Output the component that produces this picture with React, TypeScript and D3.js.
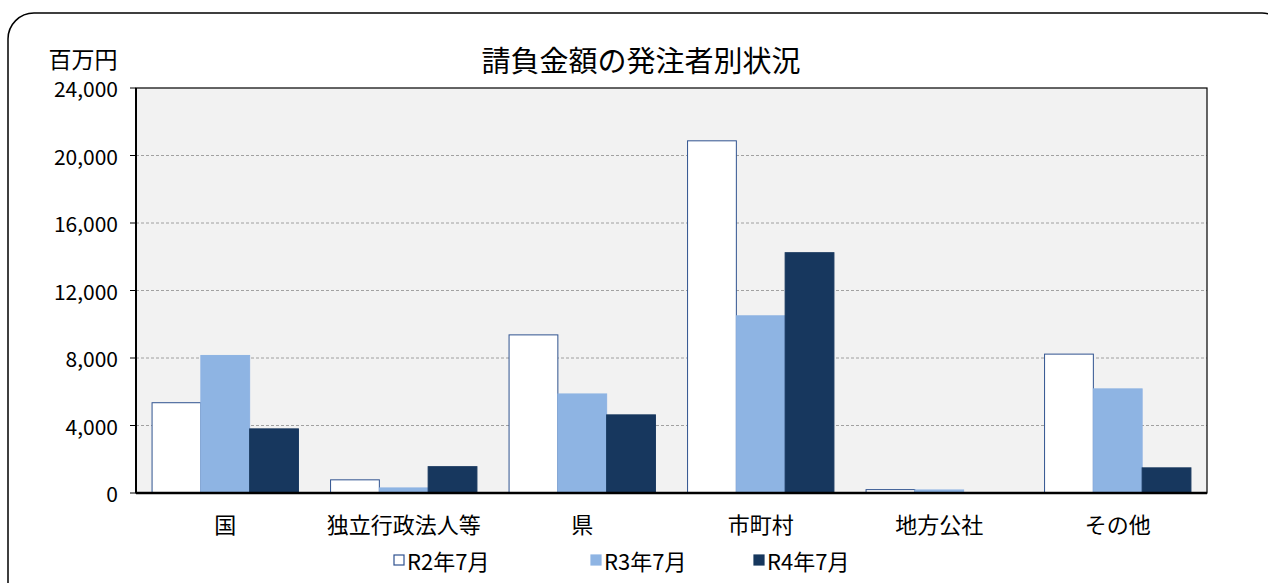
import { useEffect, useRef } from 'react';
import * as d3 from 'd3';

const categories = ['国', '独立行政法人等', '県', '市町村', '地方公社', 'その他'];
const seriesNames = ['R2年7月', 'R3年7月', 'R4年7月'];
const r2Values = [5350, 780, 9370, 20870, 200, 8230];
const r3Values = [8150, 300, 5870, 10500, 180, 6170];
const r4Values = [3800, 1560, 4630, 14240, 0, 1490];
const yTicks = [0, 4000, 8000, 12000, 16000, 20000, 24000];

const fills = ['#ffffff', '#8eb4e3', '#17375e'];
const strokes = ['#2f528f', '#8eb4e3', '#17375e'];
const FONT = '"Noto Sans CJK JP", "Noto Sans", sans-serif';

export default function App() {
  const svgRef = useRef<SVGSVGElement>(null);

  useEffect(() => {
    if (!svgRef.current) return;
    const svg = d3.select(svgRef.current);
    svg.selectAll('*').remove();

    const width = 1268;
    const height = 583;
    const margin = { top: 88, right: 61, bottom: 90, left: 136 };
    const innerWidth = width - margin.left - margin.right;
    const innerHeight = height - margin.top - margin.bottom;

    // outer frame
    svg.append('rect')
      .attr('x', 8).attr('y', 13)
      .attr('width', 1280).attr('height', 600)
      .attr('rx', 26)
      .attr('fill', '#ffffff')
      .attr('stroke', '#000').attr('stroke-width', 1.5);

    const x0 = d3.scaleBand().domain(categories).range([0, innerWidth]).paddingInner(0.18).paddingOuter(0.09);
    const x1 = d3.scaleBand().domain(seriesNames).range([0, x0.bandwidth()]);
    const y = d3.scaleLinear().domain([0, 24000]).range([innerHeight, 0]);

    const g = svg.append('g').attr('transform', 'translate(' + margin.left + ',' + margin.top + ')');

    g.append('rect')
      .attr('width', innerWidth).attr('height', innerHeight)
      .attr('fill', '#f2f2f2');

    // gridlines
    g.selectAll('.grid')
      .data(yTicks.filter(t => t > 0 && t < 24000))
      .join('line')
      .attr('x1', 0).attr('x2', innerWidth)
      .attr('y1', d => y(d)).attr('y2', d => y(d))
      .attr('stroke', '#8c8c8c')
      .attr('stroke-width', 0.8)
      .attr('stroke-dasharray', '3,2');

    const series = [r2Values, r3Values, r4Values];
    series.forEach((vals, si) => {
      g.selectAll('.bar-' + si)
        .data(categories)
        .join('rect')
        .attr('x', c => (x0(c) || 0) + (x1(seriesNames[si]) || 0))
        .attr('y', (c, i) => y(vals[i]))
        .attr('width', x1.bandwidth())
        .attr('height', (c, i) => innerHeight - y(vals[i]))
        .attr('fill', fills[si])
        .attr('stroke', (c, i) => vals[i] > 0 ? strokes[si] : 'none')
        .attr('stroke-width', 1);
    });

    // plot border
    g.append('rect')
      .attr('width', innerWidth).attr('height', innerHeight)
      .attr('fill', 'none')
      .attr('stroke', '#000').attr('stroke-width', 1.2);
    g.append('line')
      .attr('x1', 0).attr('x2', innerWidth)
      .attr('y1', innerHeight).attr('y2', innerHeight)
      .attr('stroke', '#000').attr('stroke-width', 2.5);
    g.append('line')
      .attr('x1', 0).attr('x2', 0)
      .attr('y1', 0).attr('y2', innerHeight)
      .attr('stroke', '#000').attr('stroke-width', 2);

    // y ticks
    g.selectAll('.ytick')
      .data(yTicks)
      .join('line')
      .attr('x1', -6).attr('x2', 0)
      .attr('y1', d => y(d)).attr('y2', d => y(d))
      .attr('stroke', '#000').attr('stroke-width', 1);

    g.selectAll('.ylabel')
      .data(yTicks)
      .join('text')
      .attr('x', -18)
      .attr('y', d => y(d))
      .attr('text-anchor', 'end')
      .attr('dominant-baseline', 'central')
      .attr('font-family', FONT)
      .attr('font-size', '21px')
      .attr('fill', '#000')
      .text(d => d3.format(',')(d));

    g.selectAll('.xlabel')
      .data(categories)
      .join('text')
      .attr('x', c => (x0(c) || 0) + x0.bandwidth() / 2)
      .attr('y', innerHeight + 30)
      .attr('text-anchor', 'middle')
      .attr('dominant-baseline', 'central')
      .attr('font-family', FONT)
      .attr('font-size', '22px')
      .attr('fill', '#000')
      .text(d => d);

    svg.append('text')
      .attr('x', 641).attr('y', 59)
      .attr('text-anchor', 'middle')
      .attr('dominant-baseline', 'central')
      .attr('font-family', FONT)
      .attr('font-size', '29px')
      .attr('fill', '#000')
      .text('請負金額の発注者別状況');

    svg.append('text')
      .attr('x', 83).attr('y', 58)
      .attr('text-anchor', 'middle')
      .attr('dominant-baseline', 'central')
      .attr('font-family', FONT)
      .attr('font-size', '23px')
      .attr('fill', '#000')
      .text('百万円');

    // legend
    const legendX = [393, 590, 753];
    const legendY = 560;
    seriesNames.forEach((name, i) => {
      svg.append('rect')
        .attr('x', legendX[i] + 1).attr('y', legendY - 5)
        .attr('width', 10).attr('height', 10)
        .attr('fill', fills[i])
        .attr('stroke', i === 0 ? '#2f528f' : fills[i])
        .attr('stroke-width', 1.2);
      svg.append('text')
        .attr('x', legendX[i] + 14).attr('y', legendY)
        .attr('dominant-baseline', 'central')
        .attr('font-family', FONT)
        .attr('font-size', '22px')
        .attr('fill', '#000')
        .text(name);
    });
  }, []);

  return <svg ref={svgRef} width={1268} height={583} style={{ position: 'absolute', left: 0, top: 0 }} />;
}
